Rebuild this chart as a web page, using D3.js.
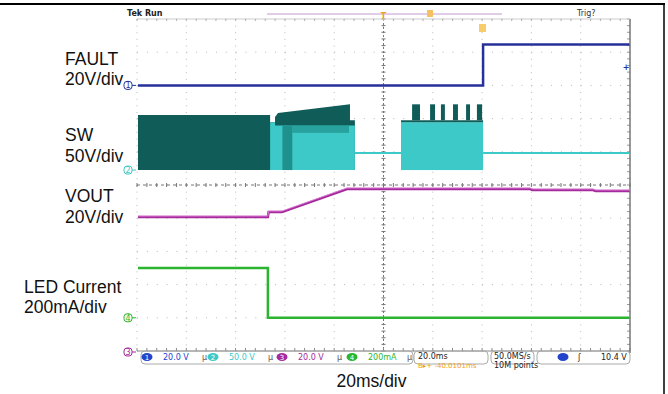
<!DOCTYPE html>
<html>
<head>
<meta charset="utf-8">
<title>Fault response</title>
<script src="https://d3js.org/d3.v7.min.js"></script>
<style>
	body{ margin:0; background:#fff; }
	svg{ display:block; }
	.lbl{ font-family:"Liberation Sans", Arial, sans-serif; font-size:17.5px; fill:#111; }
	.scope{ font-family:"DejaVu Sans", sans-serif; font-size:8px; }
</style>
</head>
<body>
<script>
// time axis, ms (20 ms/div, trigger at centre)
var timeTicks = d3.range(-100, 101, 20)

// channel labels (left side)
var chanNames = ["FAULT", "SW", "VOUT", "LED Current"]
var chanScales = ["20V/div", "50V/div", "20V/div", "200mA/div"]

// FAULT, V
var faultT = [-99.6, 40.4, 40.4, 99.8]
var faultV = [0, 0, 24.7, 24.7]

// SW outer (dark) envelope, V
var swDarkT = [-99.6, -46.0, -46.0, -44.0, -44.0, -42.8, -13.6, -13.6, -11.6, -11.6]
var swDarkV = [83, 83, 72, 72, 80, 86, 99, 75, 75, 0]
// SW inner (light) envelope
var swLightT = [-46.0, -44.0, -44.0, -11.6]
var swLightV = [72, 72, 67, 67]
// second burst
var swBurstT = [7.1, 40.4]
var swBurstV = [72, 75]
var swSpikeStart = [11.6, 18.9, 23.3, 28.2, 33.5, 37.9]
var swSpikeEnd = [14.8, 20.9, 24.9, 30.2, 35.1, 40.0]
var swSpikeV = 99
// SW idle level
var swIdleT = [[-11.6, 7.1], [40.4, 99.8]]
var swIdleV = 25.6

// VOUT, V
var voutT = [-99.6, -46.9, -46.6, -41.2, -14.8, 59.4, 60.5, 85.0, 86.0, 99.8]
var voutV = [80.7, 80.7, 83.7, 83.7, 97.6, 97.6, 97.0, 97.0, 96.4, 96.4]

// LED current, mA
var ledT = [-99.6, -46.9, -46.9, 99.8]
var ledI = [300, 300, 0, 0]

var W = 668, H = 394
var svg = d3.select("body").append("svg").attr("width", W).attr("height", H)

var gLeft = 137, gRight = 630, gTop = 19, gBottom = 351
var x = d3.scaleLinear().domain([-100, 100]).range([gLeft, gRight])
var yDiv = d3.scaleLinear().domain([-5, 5]).range([gBottom, gTop])
function chY(groundDiv, perDiv){
	return function(v){ return yDiv(groundDiv + v / perDiv) }
}
var yFault = chY(3, 20), ySw = chY(0.45, 50), yVout = chY(-5, 20), yLed = chY(-4, 200)

// outer frame
svg.append("line").attr("x1", 0).attr("x2", 665).attr("y1", 4).attr("y2", 4).attr("stroke", "#000").attr("stroke-width", 2)
svg.append("line").attr("x1", 664).attr("x2", 664).attr("y1", 4).attr("y2", 394).attr("stroke", "#000").attr("stroke-width", 1.5)

// graticule
var g = svg.append("g")
var divY = d3.range(-5, 6)
g.selectAll(".gv").data(timeTicks).enter().append("line")
	.attr("x1", d => x(d)).attr("x2", d => x(d)).attr("y1", gTop).attr("y2", gBottom)
	.attr("stroke", "#b8b8b8").attr("stroke-dasharray", "1,5.64")
g.selectAll(".gh").data(divY).enter().append("line")
	.attr("x1", gLeft).attr("x2", gRight).attr("y1", d => yDiv(d)).attr("y2", d => yDiv(d))
	.attr("stroke", "#b8b8b8").attr("stroke-dasharray", "1,8.86")
// centre cross + edges with minor ticks
var minorX = d3.range(-100, 100.1, 4), minorY = d3.range(-5, 5.01, 0.2)
g.append("line").attr("x1", gLeft).attr("x2", gRight).attr("y1", yDiv(0)).attr("y2", yDiv(0))
	.attr("stroke", "#777").attr("stroke-dasharray", "3,3")
g.append("line").attr("x1", x(0)).attr("x2", x(0)).attr("y1", gTop).attr("y2", gBottom)
	.attr("stroke", "#777").attr("stroke-dasharray", "2,2")
g.selectAll(".tx").data(minorX).enter().append("line")
	.attr("x1", d => x(d)).attr("x2", d => x(d)).attr("y1", yDiv(0) - 2).attr("y2", yDiv(0) + 2)
	.attr("stroke", "#777")
g.selectAll(".ty").data(minorY).enter().append("line")
	.attr("x1", x(0) - 2).attr("x2", x(0) + 2).attr("y1", d => yDiv(d)).attr("y2", d => yDiv(d))
	.attr("stroke", "#777")
g.selectAll(".tb").data(minorX).enter().append("line")
	.attr("x1", d => x(d)).attr("x2", d => x(d)).attr("y1", gBottom - 3).attr("y2", gBottom)
	.attr("stroke", "#888")
g.selectAll(".tt").data(minorX).enter().append("line")
	.attr("x1", d => x(d)).attr("x2", d => x(d)).attr("y1", gTop).attr("y2", gTop + 2)
	.attr("stroke", "#aaa")
g.selectAll(".tr").data(minorY).enter().append("line")
	.attr("x1", gRight - 3).attr("x2", gRight).attr("y1", d => yDiv(d)).attr("y2", d => yDiv(d))
	.attr("stroke", "#999")
g.append("line").attr("x1", gRight).attr("x2", gRight).attr("y1", gTop).attr("y2", gBottom + 2).attr("stroke", "#777").attr("stroke-width", 1.5)
g.append("line").attr("x1", gLeft).attr("x2", gRight).attr("y1", gBottom).attr("y2", gBottom).attr("stroke", "#888")
g.append("line").attr("x1", gLeft).attr("x2", gRight).attr("y1", gTop).attr("y2", gTop).attr("stroke", "#ccc")

// SW trace
var dark = "#0f5c58", light = "#3cc9c7", mid = "#1f918d"
var swArea = d3.area().x(d => x(d[0])).y0(ySw(0)).y1(d => ySw(d[1]))
svg.append("path").datum(d3.zip(swDarkT, swDarkV)).attr("d", swArea).attr("fill", dark)
svg.append("path").datum(d3.zip(swLightT, swLightV)).attr("d", swArea).attr("fill", light)
svg.append("rect").attr("x", x(-41)).attr("width", x(-37) - x(-41))
	.attr("y", ySw(67)).attr("height", ySw(0) - ySw(67)).attr("fill", mid)
svg.append("rect").attr("x", x(-37)).attr("width", x(-14) - x(-37))
	.attr("y", ySw(67)).attr("height", ySw(56) - ySw(67)).attr("fill", mid).attr("opacity", 0.7)
svg.append("rect").attr("x", x(swBurstT[0])).attr("width", x(swBurstT[1]) - x(swBurstT[0]))
	.attr("y", ySw(swBurstV[0])).attr("height", ySw(0) - ySw(swBurstV[0])).attr("fill", light)
svg.append("rect").attr("x", x(swBurstT[0])).attr("width", x(swBurstT[1]) - x(swBurstT[0]))
	.attr("y", ySw(swBurstV[1])).attr("height", ySw(swBurstV[0]) - ySw(swBurstV[1])).attr("fill", dark)
svg.selectAll(".spike").data(d3.zip(swSpikeStart, swSpikeEnd)).enter().append("rect")
	.attr("x", d => x(d[0])).attr("width", d => x(d[1]) - x(d[0]))
	.attr("y", ySw(swSpikeV)).attr("height", ySw(swBurstV[1]) - ySw(swSpikeV)).attr("fill", dark)
svg.selectAll(".idle").data(swIdleT).enter().append("line")
	.attr("x1", d => x(d[0])).attr("x2", d => x(d[1]))
	.attr("y1", ySw(swIdleV)).attr("y2", ySw(swIdleV))
	.attr("stroke", light).attr("stroke-width", 2)

// FAULT, VOUT, LED traces
var line = d3.line()
svg.append("path").datum(d3.zip(faultT, faultV).map(d => [x(d[0]), yFault(d[1])]))
	.attr("d", line).attr("fill", "none").attr("stroke", "#26309a").attr("stroke-width", 2.5)
svg.append("path").datum(d3.zip(voutT, voutV).map(d => [x(d[0]), yVout(d[1])]))
	.attr("d", line).attr("fill", "none").attr("stroke", "#a52a9c").attr("stroke-width", 2.5)
svg.append("path").datum(d3.zip(voutT, voutV).map(d => [x(d[0]), yVout(d[1]) - 1]))
	.attr("d", line).attr("fill", "none").attr("stroke", "#e58ee0").attr("stroke-width", 0.8)
svg.append("path").datum(d3.zip(ledT, ledI).map(d => [x(d[0]), yLed(d[1])]))
	.attr("d", line).attr("fill", "none").attr("stroke", "#2bb52f").attr("stroke-width", 2.5)

// ground markers
var markers = [[yFault(0), "1", "#26309a"], [ySw(0), "2", "#3cc9c7"], [yLed(0), "4", "#2bb52f"], [yDiv(-5) + 1, "3", "#a52a9c"]]
var mk = svg.selectAll(".mk").data(markers).enter().append("g")
	.attr("transform", d => "translate(128," + d[0] + ")")
mk.append("rect").attr("x", -4).attr("y", -4).attr("width", 8).attr("height", 8).attr("rx", 3)
	.attr("fill", "none").attr("stroke", d => d[2]).attr("stroke-width", 1)
mk.append("text").attr("class", "scope").attr("text-anchor", "middle").attr("y", 3)
	.attr("font-size", "7px").attr("fill", d => d[2]).text(d => d[1])
mk.append("line").attr("x1", 4).attr("x2", 8).attr("y1", 0).attr("y2", 0).attr("stroke", d => d[2])
svg.append("text").attr("class", "scope").attr("x", 626).attr("y", 70).attr("text-anchor", "middle")
	.attr("fill", "#26309a").attr("font-weight", "bold").text("+")

// top status line
svg.append("text").attr("class", "scope").attr("x", 127).attr("y", 16).attr("font-weight", "bold").attr("fill", "#222").text("Tek Run")
svg.append("text").attr("class", "scope").attr("x", 577).attr("y", 16).attr("fill", "#333").text("Trig?")
svg.append("line").attr("x1", 267).attr("x2", 502).attr("y1", 14).attr("y2", 14).attr("stroke", "#c49ad0")
svg.append("text").attr("class", "scope").attr("x", x(0)).attr("y", 19).attr("text-anchor", "middle")
	.attr("fill", "#f0a020").attr("font-weight", "bold").text("T")
svg.append("rect").attr("x", 427).attr("y", 10).attr("width", 6).attr("height", 7).attr("fill", "#f6c060")
svg.append("rect").attr("x", 479).attr("y", 24).attr("width", 7).attr("height", 8).attr("fill", "#f8cc6a")

// bottom status bar
var sb = svg.append("g").attr("class", "scope")
var boxes = [[141, 413], [414, 488], [491, 534], [537, 630]]
sb.selectAll("rect").data(boxes).enter().append("rect")
	.attr("x", d => d[0]).attr("y", 351).attr("width", d => d[1] - d[0]).attr("height", 13).attr("rx", 4)
	.attr("fill", "none").attr("stroke", "#aaa")
var chips = [[147, "1", "#2244cc", "20.0 V"], [213, "2", "#3cc9c7", "50.0 V"], [282, "3", "#a52a9c", "20.0 V"], [352, "4", "#2bb52f", "200mA"]]
var ch = sb.selectAll(".chip").data(chips).enter().append("g")
ch.append("ellipse").attr("cx", d => d[0]).attr("cy", 357).attr("rx", 5.5).attr("ry", 4).attr("fill", d => d[2])
ch.append("text").attr("x", d => d[0]).attr("y", 360).attr("text-anchor", "middle").attr("fill", "#fff").attr("font-size", "7px").text(d => d[1])
ch.append("text").attr("x", d => d[0] + 16).attr("y", 360).attr("fill", d => d[2]).text(d => d[3])
ch.append("text").attr("x", d => d[0] + 55).attr("y", 360).attr("fill", "#555").text("\u00b5")
sb.append("text").attr("x", 418).attr("y", 359).attr("fill", "#222").text("20.0ms")
sb.append("text").attr("x", 418).attr("y", 368).attr("fill", "#f0a020").attr("font-size", "7px").text("B\u25b8+ -40.0101ms")
sb.append("text").attr("x", 494).attr("y", 359).attr("fill", "#222").text("50.0MS/s")
sb.append("text").attr("x", 494).attr("y", 368).attr("fill", "#222").text("10M points")
sb.append("ellipse").attr("cx", 563).attr("cy", 357).attr("rx", 5.5).attr("ry", 4).attr("fill", "#2244cc")
sb.append("text").attr("x", 578).attr("y", 360).attr("fill", "#222").text("\u0283")
sb.append("text").attr("x", 601).attr("y", 360).attr("fill", "#222").text("10.4 V")

// channel labels
var labelY = [[65, 85], [141, 162], [202, 223], [293, 313]]
var labelX = [65, 65, 65, 24]
chanNames.forEach(function(n, i){
	svg.append("text").attr("class", "lbl").attr("x", labelX[i]).attr("y", labelY[i][0]).text(n)
	svg.append("text").attr("class", "lbl").attr("x", labelX[i]).attr("y", labelY[i][1]).text(chanScales[i])
})
svg.append("text").attr("class", "lbl").attr("x", x(0) - 12).attr("y", 387).attr("text-anchor", "middle")
	.attr("font-size", "15px").text("20ms/div")
</script>
</body>
</html>
